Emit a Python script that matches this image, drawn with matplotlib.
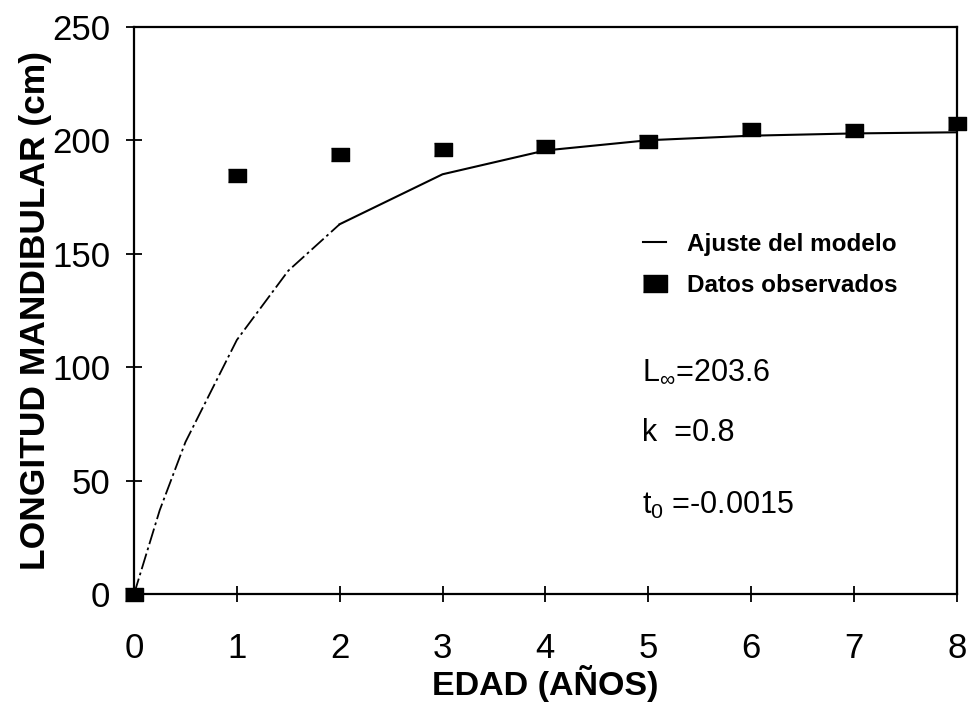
import matplotlib
matplotlib.use("Agg")
from matplotlib import pyplot as plt
from matplotlib.lines import Line2D

plt.rcParams['font.family'] = ['Liberation Sans', 'DejaVu Sans']
plt.rcParams['mathtext.fontset'] = 'custom'
plt.rcParams['mathtext.rm'] = 'Liberation Sans'
plt.rcParams['mathtext.it'] = 'Liberation Sans'

# edad (años) y longitud mandibular (cm)
edad_obs = [0, 1, 2, 3, 4, 5, 6, 7, 8]
long_obs = [0, 184.5, 194, 196, 197.5, 199.7, 205, 204.5, 207.5]

# curva del ajuste
edad_mod = [0, 0.25, 0.5, 1, 1.5, 2, 3, 4, 5, 6, 7, 8]
long_mod = [0, 37, 67, 112, 142.5, 163, 185, 195.5, 200, 202, 203, 203.5]

x_ticks = [0, 1, 2, 3, 4, 5, 6, 7, 8]
y_ticks = [0, 50, 100, 150, 200, 250]

fig = plt.figure(figsize=(9.69, 7.04), dpi=100)
ax = fig.add_axes([0.1383, 0.156, 0.849, 0.806])

# tramo inicial discontinuo, resto continuo
ax.plot(edad_mod[:6], long_mod[:6], color="black", lw=1.3,
        linestyle=(0, (9, 2, 1.5, 2)))
ax.plot(edad_mod[5:], long_mod[5:], color="black", lw=1.5)

rect = [(-1, -0.72), (1, -0.72), (1, 0.72), (-1, 0.72)]
ax.plot(edad_obs, long_obs, linestyle="none", marker=rect, markersize=13,
        color="black", clip_on=False, zorder=5)

ax.set_xlim(0, 8)
ax.set_ylim(0, 250)
ax.set_xticks(x_ticks)
ax.set_yticks(y_ticks)
ax.tick_params(direction="inout", length=12, width=1.3, labelsize=25)
ax.tick_params(axis="x", pad=21)
ax.tick_params(axis="y", pad=11)
for s in ax.spines.values():
    s.set_linewidth(1.6)

ax.set_xlabel("EDAD (AÑOS)", fontsize=24.5, fontweight="bold", labelpad=0)
ax.set_ylabel("LONGITUD MANDIBULAR (cm)", fontsize=25.5, fontweight="bold", labelpad=0)

handles = [
    Line2D([0], [0], color="black", lw=1.5),
    Line2D([0], [0], linestyle="none", marker=rect, markersize=17, color="black"),
]
leg = ax.legend(handles, ["Ajuste del modelo", "Datos observados"], loc="upper left",
                bbox_to_anchor=(0.619, 0.637), frameon=False,
                prop={"size": 17.5, "weight": "bold"},
                handlelength=0.95, handletextpad=0.85, borderpad=0, borderaxespad=0,
                labelspacing=0.75)

ax.text(4.94, 98, r"L$_{\infty}$=203.6", fontsize=22, va="center")
ax.text(4.94, 71, "k  =0.8", fontsize=22, va="center")
ax.text(4.94, 39, r"t$_0$ =-0.0015", fontsize=22, va="center")

fig.savefig("out.png", dpi=100)
